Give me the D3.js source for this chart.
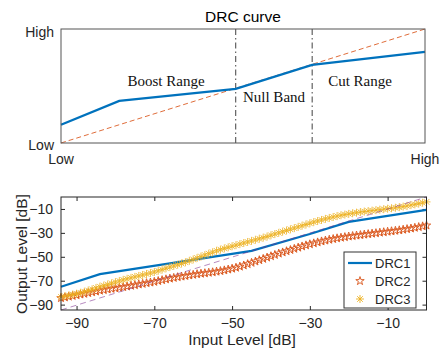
<!DOCTYPE html>
<html lang="en">
<head>
<meta charset="UTF-8">
<title>DRC curve</title>
<style>
  body { margin: 0; background: #fff; }
  svg { display: block; font-family: "Liberation Sans", Arial, sans-serif; }
  .serif { font-family: "Liberation Serif", "Times New Roman", serif; }
</style>
</head>
<body>
<script src="https://cdn.jsdelivr.net/npm/d3@7"></script>
<script>
// ---- top panel: schematic DRC curve (normalised 0..1) ----
const schemX = [0, 0.16, 0.48, 0.69, 1]
const schemY = [0.16, 0.37, 0.475, 0.685, 0.80]
const bandEdges = [0.48, 0.69]
const regionLabels = ["Boost Range", "Null Band", "Cut Range"]

// ---- bottom panel: measured DRC curves ----
const drc1In = [-94, -84, -45, -30, -20, 0]
const drc1Out = [-75, -64.5, -45, -31, -20.8, -10.8]

const inputDb = [
  -94, -93, -92, -91, -90, -89, -88, -87, -86, -85,
  -84, -83, -82, -81, -80, -79, -78, -77, -76, -75,
  -74, -73, -72, -71, -70, -69, -68, -67, -66, -65,
  -64, -63, -62, -61, -60, -59, -58, -57, -56, -55,
  -54, -53, -52, -51, -50, -49, -48, -47, -46, -45,
  -44, -43, -42, -41, -40, -39, -38, -37, -36, -35,
  -34, -33, -32, -31, -30, -29, -28, -27, -26, -25,
  -24, -23, -22, -21, -20, -19, -18, -17, -16, -15,
  -14, -13, -12, -11, -10, -9, -8, -7, -6, -5,
  -4, -3, -2, -1, 0
]
const drc2Out = [
  -84.5, -83.9, -83.3, -82.7, -82.1, -81.5, -80.9, -80.3, -79.6, -79.0,
  -78.3, -77.8, -77.3, -76.8, -76.3, -75.8, -75.3, -74.8, -74.2, -73.7,
  -73.1, -72.6, -72.0, -71.5, -70.9, -70.2, -69.5, -68.8, -68.2, -67.6,
  -67.0, -66.5, -66.0, -65.5, -65.0, -64.5, -64.1, -63.7, -63.3, -62.9,
  -62.4, -61.9, -61.3, -60.6, -59.9, -59.1, -58.2, -57.2, -56.1, -55.0,
  -53.9, -52.8, -51.7, -50.6, -49.5, -48.4, -47.3, -46.3, -45.3, -44.3,
  -43.3, -42.3, -41.3, -40.4, -39.5, -38.7, -37.9, -37.1, -36.4, -35.7,
  -35.1, -34.5, -34.0, -33.5, -33.0, -32.6, -32.2, -31.8, -31.4, -31.0,
  -30.6, -30.2, -29.8, -29.4, -29.0, -28.6, -28.2, -27.8, -27.3, -26.8,
  -26.3, -25.7, -25.1, -24.5, -23.8
]
const drc3Out = [
  -83.6, -83.0, -82.3, -81.6, -80.9, -80.1, -79.2, -78.2, -77.2, -76.1,
  -75.0, -74.1, -73.2, -72.2, -71.2, -70.2, -69.3, -68.4, -67.6, -66.8,
  -66.0, -65.2, -64.4, -63.6, -62.7, -61.7, -60.7, -59.6, -58.6, -57.6,
  -56.6, -55.6, -54.6, -53.4, -52.2, -51.0, -49.8, -48.6, -47.4, -46.2,
  -45.0, -44.0, -43.0, -42.1, -41.2, -40.3, -39.4, -38.5, -37.6, -36.7,
  -35.8, -34.9, -34.0, -33.1, -32.0, -31.0, -30.0, -29.0, -28.0, -27.0,
  -26.0, -25.0, -24.0, -23.0, -22.0, -21.0, -20.1, -19.2, -18.3, -17.5,
  -16.7, -16.0, -15.3, -14.7, -14.1, -13.6, -13.1, -12.6, -12.2, -11.8,
  -11.4, -11.0, -10.6, -10.2, -9.8, -9.4, -9.0, -8.5, -8.0, -7.4,
  -6.8, -6.2, -5.5, -4.8, -4.1
]
const tickVals = [-90, -70, -50, -30, -10]
const seriesNames = ["DRC1", "DRC2", "DRC3"]

const blue = "#0072BD", orange = "#D95319", yellow = "#EDB120", purple = "#7E2F8E"
const axisCol = "#262626"

let width = 440
let height = 359

let svg = d3.select("body").append("svg")
  .attr("width", width)
  .attr("height", height)

// ================= top panel =================
let tx = d3.scaleLinear().domain([0, 1]).range([61, 425])
let ty = d3.scaleLinear().domain([0, 1]).range([143, 29])
let topG = svg.append("g")

topG.append("text")
  .attr("x", 243).attr("y", 22)
  .attr("text-anchor", "middle")
  .style("font-size", "15.5px")
  .text("DRC curve")

// band separators
topG.selectAll("line.band")
  .data(bandEdges)
  .enter().append("line")
  .attr("class", "band")
  .attr("x1", d => tx(d)).attr("x2", d => tx(d))
  .attr("y1", ty(0)).attr("y2", ty(1))
  .attr("stroke", "#404040")
  .attr("stroke-width", 1)
  .attr("stroke-dasharray", "6,3,1.5,3")

// reference (1:1) line
topG.append("path")
  .datum([0, 1])
  .attr("d", d3.line().x(d => tx(d)).y(d => ty(d)))
  .attr("fill", "none")
  .attr("stroke", orange)
  .attr("stroke-width", 1)
  .attr("stroke-dasharray", "5,3")
  .attr("opacity", 0.85)

topG.append("path")
  .datum(schemX.map((x, i) => [x, schemY[i]]))
  .attr("d", d3.line().x(d => tx(d[0])).y(d => ty(d[1])))
  .attr("fill", "none")
  .attr("stroke", blue)
  .attr("stroke-width", 2.3)

topG.append("rect")
  .attr("x", tx(0)).attr("y", ty(1))
  .attr("width", tx(1) - tx(0)).attr("height", ty(0) - ty(1))
  .attr("fill", "none")
  .attr("stroke", "#555")
  .attr("stroke-width", 1)

// region labels
let labelPos = [[166, 86], [274, 102], [360, 86]]
topG.selectAll("text.region")
  .data(regionLabels)
  .enter().append("text")
  .attr("class", "region serif")
  .attr("x", (d, i) => labelPos[i][0])
  .attr("y", (d, i) => labelPos[i][1])
  .attr("text-anchor", "middle")
  .style("font-size", "15px")
  .attr("fill", "#111")
  .text(d => d)

// low / high labels
topG.append("text").attr("x", 54).attr("y", 37).attr("text-anchor", "end")
  .style("font-size", "14px").attr("fill", axisCol).text("High")
topG.append("text").attr("x", 54).attr("y", 150).attr("text-anchor", "end")
  .style("font-size", "14px").attr("fill", axisCol).text("Low")
topG.append("text").attr("x", tx(0)).attr("y", 164).attr("text-anchor", "middle")
  .style("font-size", "14px").attr("fill", axisCol).text("Low")
topG.append("text").attr("x", tx(1)).attr("y", 164).attr("text-anchor", "middle")
  .style("font-size", "14px").attr("fill", axisCol).text("High")

// ================= bottom panel =================
let x = d3.scaleLinear().domain([-94, 0]).range([61, 426.5])
let y = d3.scaleLinear().domain([-94.5, 0]).range([310, 197])
let botG = svg.append("g")

function styleAxis(g) {
  g.select(".domain").remove()
  g.selectAll(".tick line").attr("stroke", axisCol)
  g.selectAll(".tick text")
    .attr("fill", axisCol)
    .style("font-size", "14px")
    .style("font-family", "'Liberation Sans', Arial, sans-serif")
}

botG.append("g")
  .attr("transform", "translate(0," + y(-94.5) + ")")
  .call(d3.axisBottom(x).tickValues(tickVals).tickSize(-4).tickPadding(8))
  .call(styleAxis)
botG.append("g")
  .attr("transform", "translate(0," + y(0) + ")")
  .call(d3.axisTop(x).tickValues(tickVals).tickSize(-4).tickFormat(""))
  .call(styleAxis)
botG.append("g")
  .attr("transform", "translate(" + x(-94) + ",0)")
  .call(d3.axisLeft(y).tickValues(tickVals).tickSize(-4).tickPadding(8))
  .call(styleAxis)
botG.append("g")
  .attr("transform", "translate(" + x(0) + ",0)")
  .call(d3.axisRight(y).tickValues(tickVals).tickSize(-4).tickFormat(""))
  .call(styleAxis)

// DRC1 line
botG.append("path")
  .datum(drc1In.map((v, i) => [v, drc1Out[i]]))
  .attr("d", d3.line().x(d => x(d[0])).y(d => y(d[1])))
  .attr("fill", "none")
  .attr("stroke", blue)
  .attr("stroke-width", 2.2)

// DRC2 pentagrams
let star = d3.symbol().type(d3.symbolStar).size(22)
botG.append("g").selectAll("path")
  .data(inputDb.map((v, i) => [v, drc2Out[i]]))
  .enter().append("path")
  .attr("d", star)
  .attr("transform", d => "translate(" + x(d[0]) + "," + y(d[1]) + ")")
  .attr("fill", "none")
  .attr("stroke", orange)
  .attr("stroke-width", 0.9)

// DRC3 asterisks
function asterisk(r) {
  let k = r * 0.707
  return "M" + (-r) + ",0L" + r + ",0M0," + (-r) + "L0," + r +
    "M" + (-k) + "," + (-k) + "L" + k + "," + k +
    "M" + (-k) + "," + k + "L" + k + "," + (-k)
}
botG.append("g").selectAll("path")
  .data(inputDb.map((v, i) => [v, drc3Out[i]]))
  .enter().append("path")
  .attr("d", asterisk(4))
  .attr("transform", d => "translate(" + x(d[0]) + "," + y(d[1]) + ")")
  .attr("fill", "none")
  .attr("stroke", yellow)
  .attr("stroke-width", 0.9)
  .attr("opacity", 0.9)

// 1:1 reference
botG.append("path")
  .datum([[-94, -94.5], [0, 0]])
  .attr("d", d3.line().x(d => x(d[0])).y(d => y(d[1])))
  .attr("fill", "none")
  .attr("stroke", purple)
  .attr("stroke-width", 0.8)
  .attr("stroke-dasharray", "6,4")
  .attr("opacity", 0.7)

botG.append("rect")
  .attr("x", x(-94)).attr("y", y(0))
  .attr("width", x(0) - x(-94)).attr("height", y(-94.5) - y(0))
  .attr("fill", "none")
  .attr("stroke", axisCol)
  .attr("stroke-width", 1)

// axis titles
botG.append("text")
  .attr("x", 242).attr("y", 345)
  .attr("text-anchor", "middle")
  .style("font-size", "15.5px")
  .attr("fill", axisCol)
  .text("Input Level [dB]")
botG.append("text")
  .attr("transform", "translate(27,254) rotate(-90)")
  .attr("text-anchor", "middle")
  .style("font-size", "15.5px")
  .attr("fill", axisCol)
  .text("Output Level [dB]")

// legend
let leg = botG.append("g")
leg.append("rect")
  .attr("x", 344).attr("y", 252).attr("width", 72).attr("height", 56)
  .attr("fill", "#fff").attr("stroke", "#333").attr("stroke-width", 1)
let legY = [263, 281, 299]
leg.append("line")
  .attr("x1", 348).attr("x2", 372).attr("y1", legY[0]).attr("y2", legY[0])
  .attr("stroke", blue).attr("stroke-width", 2.2)
leg.append("path").attr("d", star)
  .attr("transform", "translate(360," + legY[1] + ")")
  .attr("fill", "none").attr("stroke", orange).attr("stroke-width", 0.9)
leg.append("path").attr("d", asterisk(4))
  .attr("transform", "translate(360," + legY[2] + ")")
  .attr("fill", "none").attr("stroke", yellow).attr("stroke-width", 0.9)
leg.selectAll("text")
  .data(seriesNames)
  .enter().append("text")
  .attr("x", 375)
  .attr("y", (d, i) => legY[i] + 4.6)
  .style("font-size", "13px")
  .attr("fill", axisCol)
  .text(d => d)
</script>
</body>
</html>
